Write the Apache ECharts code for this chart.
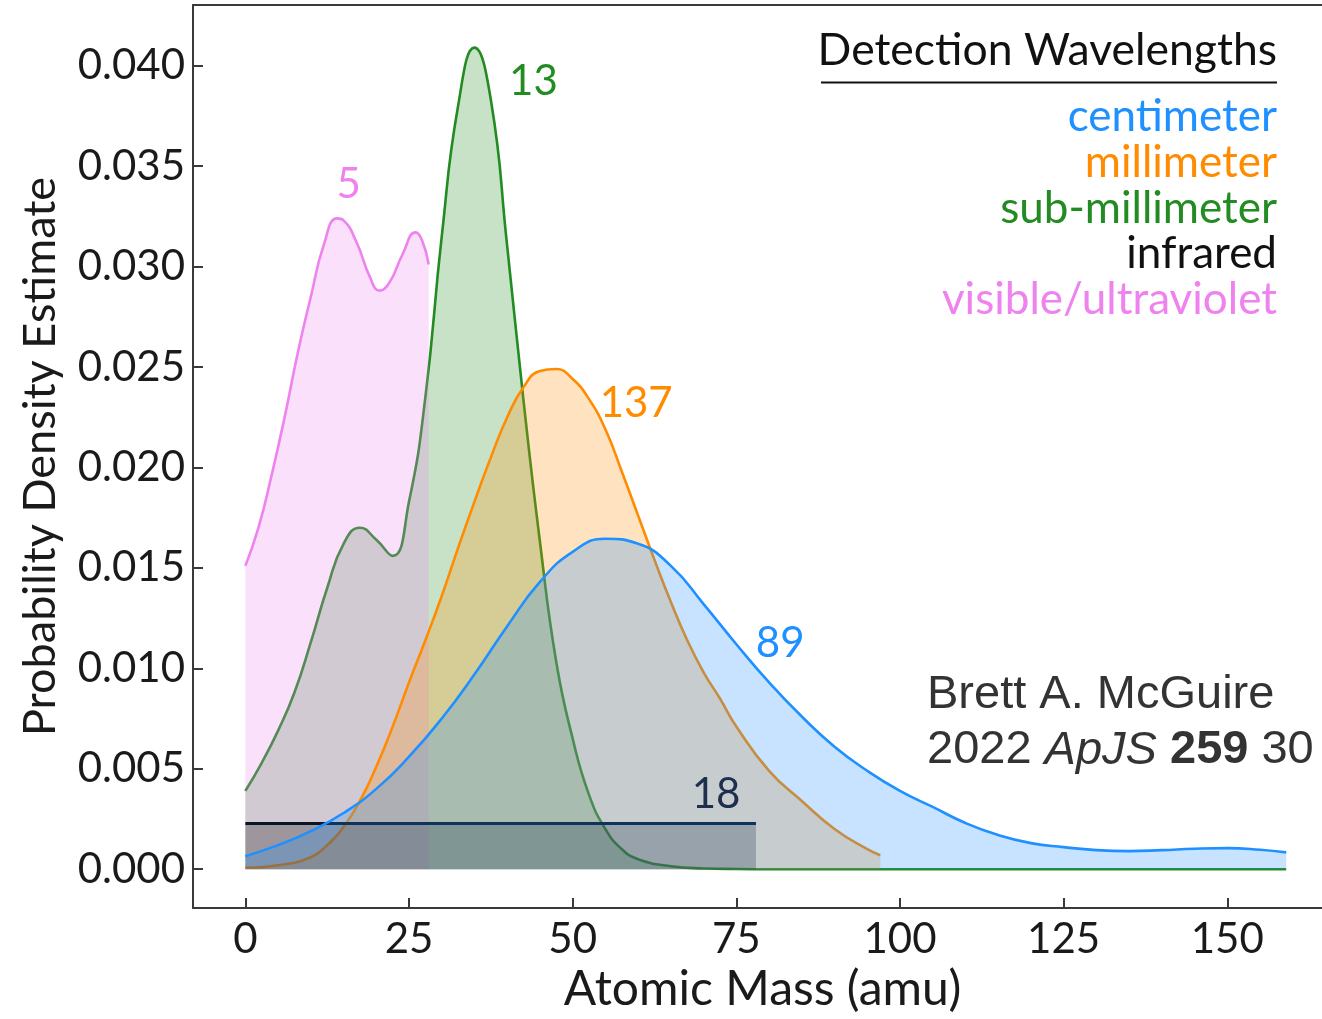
<!DOCTYPE html>
<html>
<head>
<meta charset="utf-8">
<script src="https://cdn.jsdelivr.net/npm/echarts@6/dist/echarts.min.js"></script>
<style>
  html, body { margin: 0; padding: 0; background: #ffffff; }
  #chart { width: 1322px; height: 1019px; }
</style>
</head>
<body>
<div id="chart"></div>
<script>
// Kernel density estimates of detected molecules' atomic mass, by detection wavelength.
const bandNames = ['centimeter', 'millimeter', 'sub-millimeter', 'infrared', 'visible/ultraviolet'];
const bandCounts = [89, 137, 13, 18, 5];
const bandColors = ['#1e90ff', '#ff8c00', '#228b22', '#0a1526', '#ee82ee'];
const legendColors = ['#1e90ff', '#ff8c00', '#228b22', '#111111', '#ee82ee'];

// centimeter
const cmMass = [0, 5, 10, 15, 20, 25, 30, 35, 40, 45, 50, 55, 60, 65, 70, 75, 80, 85, 90, 95, 100, 105, 110, 115, 120, 125, 130, 135, 140, 145, 150, 155, 159];
const cmDensity = [0.00065, 0.0012, 0.0019, 0.0028, 0.0040, 0.0056, 0.0075, 0.0097, 0.0121, 0.0143, 0.0158, 0.01645, 0.0162, 0.0151, 0.0132, 0.0112, 0.0093, 0.0076, 0.0061, 0.0049, 0.0039, 0.0031, 0.0023, 0.0017, 0.0013, 0.0011, 0.00095, 0.0009, 0.00095, 0.00102, 0.00105, 0.00097, 0.00084];

// millimeter
const mmMass = [0, 5, 10, 12.5, 15, 17.5, 20, 22.5, 25, 27.5, 30, 32.5, 35, 37.5, 40, 42.5, 45, 47.5, 50, 52.5, 55, 57.5, 60, 62.5, 65, 67.5, 70, 72.5, 75, 80, 85, 90, 95, 97];
const mmDensity = [0.00007, 0.0002, 0.0006, 0.0012, 0.0021, 0.0034, 0.0051, 0.0071, 0.0093, 0.0114, 0.0136, 0.0160, 0.0183, 0.0205, 0.0225, 0.0240, 0.0248, 0.0249, 0.0244, 0.0234, 0.0219, 0.0198, 0.0176, 0.0154, 0.0133, 0.0114, 0.0098, 0.0085, 0.0071, 0.0049, 0.0034, 0.0020, 0.0010, 0.0007];

// sub-millimeter
const submmMass = [0, 2.5, 5, 7.5, 10, 12.5, 15, 17.5, 20, 22.5, 25, 27.5, 30, 32.5, 35, 37.5, 40, 42.5, 45, 47.5, 50, 52.5, 55, 57.5, 60, 65, 70, 75, 80, 90, 100, 120, 140, 159];
const submmDensity = [0.0039, 0.0053, 0.0069, 0.0088, 0.0113, 0.0140, 0.0162, 0.0170, 0.0164, 0.0156, 0.0183, 0.0235, 0.0315, 0.0380, 0.0409, 0.0383, 0.0310, 0.0233, 0.0163, 0.0103, 0.0065, 0.0037, 0.0020, 0.0010, 0.0005, 0.00015, 0.00004, 0.00001, 0, 0, 0, 0, 0, 0];

// infrared (uniform)
const irMass = [0, 78];
const irDensity = [0.00228, 0.00228];

// visible / ultraviolet
const visMass = [0, 2, 4, 6, 8, 10, 12, 14, 15, 17, 19, 20.5, 22, 24, 26, 27, 28];
const visDensity = [0.0151, 0.0170, 0.0196, 0.0225, 0.0257, 0.0285, 0.0311, 0.0324, 0.0323, 0.0312, 0.0295, 0.0288, 0.0292, 0.0306, 0.0317, 0.0313, 0.0301];

// where each count label sits, in data coordinates [mass, density]
const countLabelAt = [[81.7, 0.01125], [59.7, 0.0232], [44.0, 0.0392], [71.9, 0.0037], [15.8, 0.0341]];

const xTicks = [0, 25, 50, 75, 100, 125, 150];
const yTicks = [0, 0.005, 0.010, 0.015, 0.020, 0.025, 0.030, 0.035, 0.040];

const CM_FONT = 'Lato, "Open Sans", sans-serif';
const AXIS_COLOR = '#3a3a3a';

function pairs(xs, ys) { return xs.map((x, i) => [x, ys[i]]); }

// drawn back to front; each band's fill tints the outlines beneath it
const curves = [
  { idx: 2, mass: submmMass, dens: submmDensity },
  { idx: 4, mass: visMass, dens: visDensity },
  { idx: 1, mass: mmMass, dens: mmDensity },
  { idx: 3, mass: irMass, dens: irDensity },
  { idx: 0, mass: cmMass, dens: cmDensity }
];

const series = curves.map((c, order) => ({
  name: bandNames[c.idx],
  type: 'line',
  z: 2 + order,
  data: pairs(c.mass, c.dens),
  smooth: c.idx === 3 ? false : 0.5,
  showSymbol: false,
  symbol: 'none',
  clip: true,
  lineStyle: { color: bandColors[c.idx], width: c.idx === 3 ? 3 : 2.6 },
  areaStyle: { color: c.idx === 3 ? '#000000' : bandColors[c.idx], opacity: 0.25 },
  silent: true,
  animation: false,
  markPoint: {
    z: 20,
    symbol: 'circle',
    symbolSize: 1,
    itemStyle: { color: 'rgba(0,0,0,0)' },
    label: {
      show: true,
      position: 'inside',
      formatter: String(bandCounts[c.idx]),
      color: c.idx === 3 ? '#1e2f4c' : bandColors[c.idx],
      fontSize: 42,
      fontFamily: CM_FONT
    },
    data: [{ coord: countLabelAt[c.idx] }]
  }
}));

// legend block: title, rule, and coloured band names
const legendRight = 1277;
const legendLines = bandNames.map((n, i) => ({
  type: 'text',
  right: 1322 - legendRight,
  top: 95 + i * 45.7,
  z: 30,
  style: { text: n, fill: legendColors[i], font: '44px ' + CM_FONT, textAlign: 'right' }
}));

const chart = echarts.init(document.getElementById('chart'), null, { renderer: 'canvas' });
chart.setOption({
  backgroundColor: '#ffffff',
  animation: false,
  grid: { left: 193, top: 5, right: 0, bottom: 107 },
  xAxis: [
    {
      type: 'value',
      min: -8, max: 164.47,
      name: 'Atomic Mass (amu)',
      nameLocation: 'middle',
      nameGap: 58,
      nameTextStyle: { fontSize: 48, fontFamily: CM_FONT, color: '#1a1a1a', padding: [0, 0, 0, 10] },
      axisLine: { show: true, onZero: false, lineStyle: { color: AXIS_COLOR, width: 2 } },
      splitLine: { show: false },
      axisTick: { show: true, inside: true, length: 10, customValues: xTicks, lineStyle: { color: AXIS_COLOR, width: 2 } },
      axisLabel: { customValues: xTicks, fontSize: 42, fontFamily: CM_FONT, color: '#1a1a1a', margin: 10 }
    },
    {
      type: 'value',
      position: 'top',
      min: -8, max: 164.47,
      axisLine: { show: true, onZero: false, lineStyle: { color: AXIS_COLOR, width: 2 } },
      axisTick: { show: false },
      axisLabel: { show: false },
      splitLine: { show: false }
    }
  ],
  yAxis: {
    type: 'value',
    min: -0.00193, max: 0.04302,
    name: 'Probability Density Estimate',
    nameLocation: 'middle',
    nameGap: 130,
    nameRotate: 90,
    nameTextStyle: { fontSize: 45, fontFamily: CM_FONT, color: '#1a1a1a' },
    axisLine: { show: true, onZero: false, lineStyle: { color: AXIS_COLOR, width: 2 } },
    splitLine: { show: false },
    axisTick: { show: true, inside: true, length: 10, customValues: yTicks, lineStyle: { color: AXIS_COLOR, width: 2 } },
    axisLabel: {
      customValues: yTicks,
      formatter: v => v.toFixed(3),
      fontSize: 42, fontFamily: CM_FONT, color: '#1a1a1a', margin: 8
    }
  },
  series: series,
  graphic: [
    {
      type: 'text', right: 1322 - legendRight, top: 28, z: 30,
      style: { text: 'Detection Wavelengths', fill: '#111111', font: '44.5px ' + CM_FONT, textAlign: 'right' }
    },
    {
      type: 'line', z: 30,
      shape: { x1: 821, y1: 82.5, x2: 1277, y2: 82.5 },
      style: { stroke: '#111111', lineWidth: 2 }
    },
    ...legendLines,
    {
      type: 'text', left: 927, top: 668, z: 30,
      style: {
        text: 'Brett A. McGuire\n2022 {i|ApJS} {b|259} 30',
        fill: '#333333',
        font: '47px "Liberation Sans", Arial, sans-serif',
        lineHeight: 55,
        rich: {
          i: { fontStyle: 'italic', fontSize: 47, fontFamily: '"Liberation Sans", Arial, sans-serif', fill: '#333333' },
          b: { fontWeight: 'bold', fontSize: 47, fontFamily: '"Liberation Sans", Arial, sans-serif', fill: '#333333' }
        }
      }
    }
  ]
});
</script>
</body>
</html>
